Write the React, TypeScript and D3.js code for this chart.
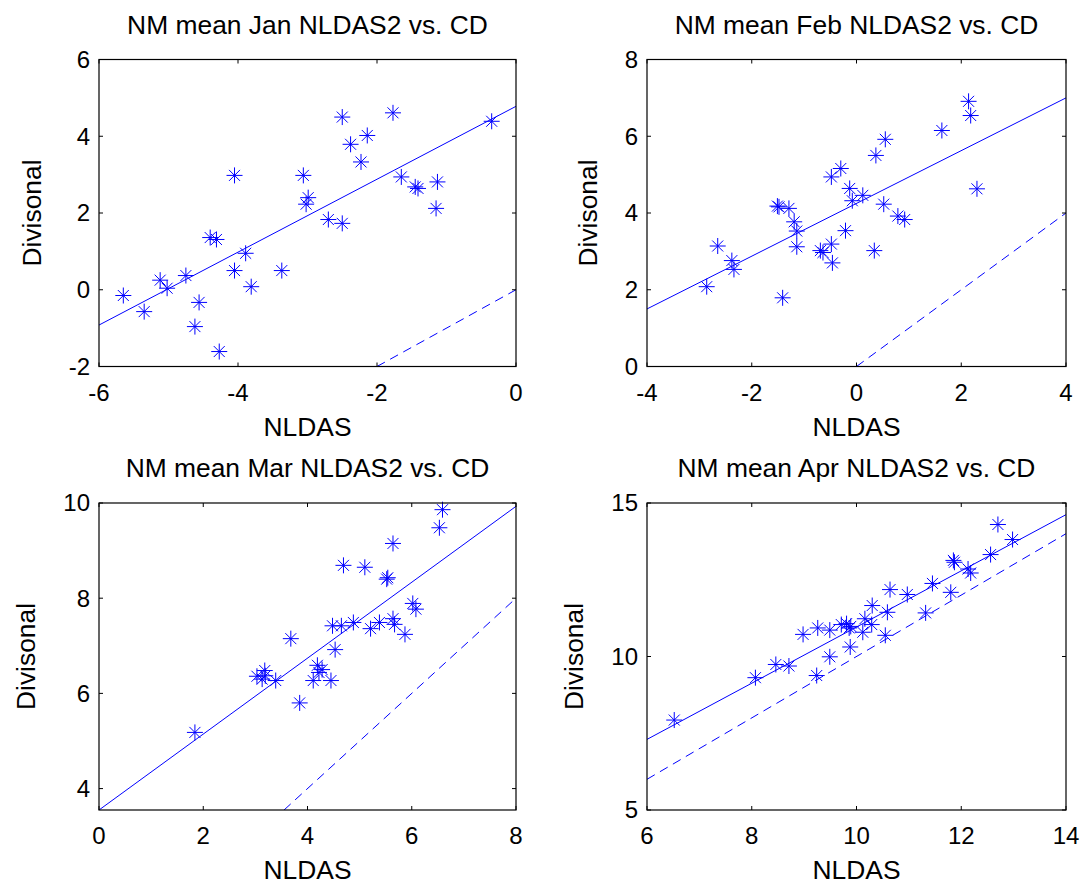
import React from "react";
import * as d3 from "d3";

// ---- data ----
const JAN_X = [-5.65, -5.35, -5.12, -5.02, -4.75, -4.62, -4.56, -4.40, -4.31, -4.27, -4.05, -4.05, -3.89, -3.81, -3.37, -3.06, -3.02, -2.99, -2.70, -2.50, -2.50, -2.38, -2.23, -2.14, -1.77, -1.65, -1.45, -1.41, -1.13, -1.15, -0.35];
const JAN_Y = [-0.15, -0.57, 0.25, 0.04, 0.37, -0.96, -0.33, 1.36, 1.31, -1.61, 2.98, 0.50, 0.95, 0.08, 0.50, 2.98, 2.23, 2.40, 1.83, 1.73, 4.50, 3.79, 3.33, 4.02, 4.61, 2.94, 2.68, 2.64, 2.81, 2.12, 4.39];

const FEB_X = [-2.86, -2.65, -2.38, -2.34, -1.51, -1.48, -1.41, -1.29, -1.19, -1.14, -1.14, -0.69, -0.64, -0.48, -0.46, -0.48, -0.30, -0.21, -0.13, -0.08, 0.12, 0.34, 0.37, 0.55, 0.52, 0.79, 0.92, 1.63, 2.14, 2.18, 2.30];
const FEB_Y = [2.08, 3.14, 2.76, 2.53, 4.18, 4.16, 1.79, 4.12, 3.77, 3.53, 3.12, 3.02, 2.97, 3.19, 2.70, 4.94, 5.16, 3.54, 4.64, 4.32, 4.46, 3.02, 5.50, 5.92, 4.23, 3.92, 3.83, 6.15, 6.91, 6.54, 4.63];

const MAR_X = [1.84, 3.03, 3.13, 3.18, 3.19, 3.39, 3.68, 3.85, 4.11, 4.19, 4.22, 4.28, 4.45, 4.48, 4.53, 4.65, 4.69, 4.88, 5.10, 5.21, 5.38, 5.52, 5.54, 5.64, 5.67, 5.64, 5.87, 6.02, 6.08, 6.53, 6.59];
const MAR_Y = [5.18, 6.36, 6.30, 6.48, 6.37, 6.27, 7.15, 5.80, 6.27, 6.59, 6.44, 6.50, 6.27, 7.42, 6.92, 7.42, 8.69, 7.49, 8.65, 7.36, 7.49, 8.40, 8.43, 7.57, 7.45, 9.15, 7.24, 7.89, 7.77, 9.48, 9.86];

const APR_X = [6.52, 8.07, 8.46, 8.71, 8.98, 9.24, 9.26, 9.49, 9.49, 9.71, 9.81, 9.86, 9.88, 9.89, 10.12, 10.16, 10.29, 10.30, 10.55, 10.59, 10.64, 10.97, 11.32, 11.45, 11.80, 11.85, 11.87, 12.13, 12.18, 12.56, 12.70, 12.98];
const APR_Y = [7.93, 9.31, 9.74, 9.69, 10.72, 9.38, 10.93, 10.86, 9.99, 11.04, 11.07, 10.93, 10.31, 10.98, 10.79, 11.23, 11.04, 11.66, 10.69, 11.44, 12.18, 12.02, 11.42, 12.38, 12.09, 13.13, 13.07, 12.85, 12.72, 13.32, 14.30, 13.81];

// regression fits [intercept, slope]
const JAN_FIT = [4.78, 0.95];
const FEB_FIT = [4.25, 0.6875];
const MAR_FIT = [3.55, 0.7975];
const APR_FIT = [1.81, 0.915];

const TITLES = [
  "NM mean Jan NLDAS2 vs. CD",
  "NM mean Feb NLDAS2 vs. CD",
  "NM mean Mar NLDAS2 vs. CD",
  "NM mean Apr NLDAS2 vs. CD",
];
const X_LABEL = "NLDAS";
const Y_LABEL = "Divisonal";

const JAN_XTICKS = [-6, -4, -2, 0];
const JAN_YTICKS = [-2, 0, 2, 4, 6];
const FEB_XTICKS = [-4, -2, 0, 2, 4];
const FEB_YTICKS = [0, 2, 4, 6, 8];
const MAR_XTICKS = [0, 2, 4, 6, 8];
const MAR_YTICKS = [4, 6, 8, 10];
const APR_XTICKS = [6, 8, 10, 12, 14];
const APR_YTICKS = [5, 10, 15];

const JAN_XDOM = [-6, 0];
const JAN_YDOM = [-2, 6];
const FEB_XDOM = [-4, 4];
const FEB_YDOM = [0, 8];
const MAR_XDOM = [0, 8];
const MAR_YDOM = [3.55, 10];
const APR_XDOM = [6, 14];
const APR_YDOM = [5, 15];

const FONT = "'Liberation Sans', Arial, Helvetica, sans-serif";
const BLUE = "#0000ff";

type PanelProps = {
  left: number;
  top: number;
  width: number;
  height: number;
  title: string;
  xs: number[];
  ys: number[];
  fit: number[];
  xdom: number[];
  ydom: number[];
  xticks: number[];
  yticks: number[];
};

function labelWidth(s: string, fs: number) {
  let w = 0;
  for (const c of s) w += c === "-" ? 0.333 : c === "." ? 0.278 : 0.556;
  return w * fs;
}

function Panel(p: PanelProps) {
  const x = d3.scaleLinear().domain(p.xdom).range([p.left, p.left + p.width]);
  const y = d3.scaleLinear().domain(p.ydom).range([p.top + p.height, p.top]);
  const tickFs = 24;
  const labFs = 26.4;
  const tl = 4;
  const right = p.left + p.width;
  const bottom = p.top + p.height;

  const maxLab = Math.max(...p.yticks.map((t) => labelWidth(String(t), tickFs)));
  const yLabelX = p.left - 9 - maxLab - 28;

  const fitLine = d3.line<number>().x((v) => x(v)).y((v) => y(p.fit[0] + p.fit[1] * v));
  const fitPath = fitLine([p.xdom[0], p.xdom[1]]);
  const lo = Math.max(p.xdom[0], p.ydom[0]);
  const hi = Math.min(p.xdom[1], p.ydom[1]);
  const oneLine = d3.line<number>().x((v) => x(v)).y((v) => y(v));
  const onePath = oneLine([lo, hi]);

  const r = 8;
  const dd = 5.5;
  const star = (cx: number, cy: number) =>
    `M${cx - r},${cy}H${cx + r}M${cx},${cy - r}V${cy + r}M${cx - dd},${cy - dd}L${cx + dd},${cy + dd}M${cx - dd},${cy + dd}L${cx + dd},${cy - dd}`;

  const clipId = "clip" + p.left + "_" + Math.round(p.top);

  return (
    <g>
      <defs>
        <clipPath id={clipId}>
          <rect x={p.left} y={p.top} width={p.width} height={p.height} />
        </clipPath>
      </defs>
      <rect x={p.left} y={p.top} width={p.width} height={p.height} fill="#fff" />
      <g clipPath={`url(#${clipId})`}>
        <path d={onePath || ""} stroke={BLUE} strokeWidth={1} fill="none" strokeDasharray="9,6" />
        <path d={fitPath || ""} stroke={BLUE} strokeWidth={1} fill="none" />
      </g>
      <g>
        {p.xs.map((xv, i) => (
          <path key={i} d={star(x(xv), y(p.ys[i]))} stroke={BLUE} strokeWidth={1} fill="none" />
        ))}
      </g>
      {p.xticks.map((t, i) => (
        <g key={"xt" + i}>
          <line x1={x(t)} x2={x(t)} y1={bottom} y2={bottom - tl} stroke="#000" strokeWidth={1} />
          <line x1={x(t)} x2={x(t)} y1={p.top} y2={p.top + tl} stroke="#000" strokeWidth={1} />
          <text x={x(t)} y={bottom + 34} textAnchor="middle" fontFamily={FONT} fontSize={tickFs} fill="#000">
            {String(t)}
          </text>
        </g>
      ))}
      {p.yticks.map((t, i) => (
        <g key={"yt" + i}>
          <line x1={p.left} x2={p.left + tl} y1={y(t)} y2={y(t)} stroke="#000" strokeWidth={1} />
          <line x1={right} x2={right - tl} y1={y(t)} y2={y(t)} stroke="#000" strokeWidth={1} />
          <text x={p.left - 9} y={y(t)} dy="0.35em" textAnchor="end" fontFamily={FONT} fontSize={tickFs} fill="#000">
            {String(t)}
          </text>
        </g>
      ))}
      <rect x={p.left} y={p.top} width={p.width} height={p.height} fill="none" stroke="#000" strokeWidth={1.2} />
      <text x={p.left + p.width / 2} y={p.top - 26} textAnchor="middle" fontFamily={FONT} fontSize={labFs} fill="#000">
        {p.title}
      </text>
      <text x={p.left + p.width / 2} y={bottom + 69} textAnchor="middle" fontFamily={FONT} fontSize={labFs} fill="#000">
        {X_LABEL}
      </text>
      <text
        transform={`translate(${yLabelX},${p.top + p.height / 2}) rotate(-90)`}
        textAnchor="middle"
        fontFamily={FONT}
        fontSize={labFs}
        fill="#000"
      >
        {Y_LABEL}
      </text>
    </g>
  );
}

export default function App() {
  const W = 419;
  const H = 307;
  const L1 = 99;
  const L2 = 647;
  const T1 = 59.5;
  const T2 = 503;
  return (
    <svg
      width={1085}
      height={885}
      style={{ position: "absolute", left: 0, top: 0, background: "#fff" }}
    >
      <rect width={1085} height={885} fill="#fff" />
      <Panel left={L1} top={T1} width={W - 2} height={H} title={TITLES[0]} xs={JAN_X} ys={JAN_Y} fit={JAN_FIT} xdom={JAN_XDOM} ydom={JAN_YDOM} xticks={JAN_XTICKS} yticks={JAN_YTICKS} />
      <Panel left={L2} top={T1} width={W} height={H} title={TITLES[1]} xs={FEB_X} ys={FEB_Y} fit={FEB_FIT} xdom={FEB_XDOM} ydom={FEB_YDOM} xticks={FEB_XTICKS} yticks={FEB_YTICKS} />
      <Panel left={L1} top={T2} width={W - 2} height={H} title={TITLES[2]} xs={MAR_X} ys={MAR_Y} fit={MAR_FIT} xdom={MAR_XDOM} ydom={MAR_YDOM} xticks={MAR_XTICKS} yticks={MAR_YTICKS} />
      <Panel left={L2} top={T2} width={W} height={H} title={TITLES[3]} xs={APR_X} ys={APR_Y} fit={APR_FIT} xdom={APR_XDOM} ydom={APR_YDOM} xticks={APR_XTICKS} yticks={APR_YTICKS} />
    </svg>
  );
}
